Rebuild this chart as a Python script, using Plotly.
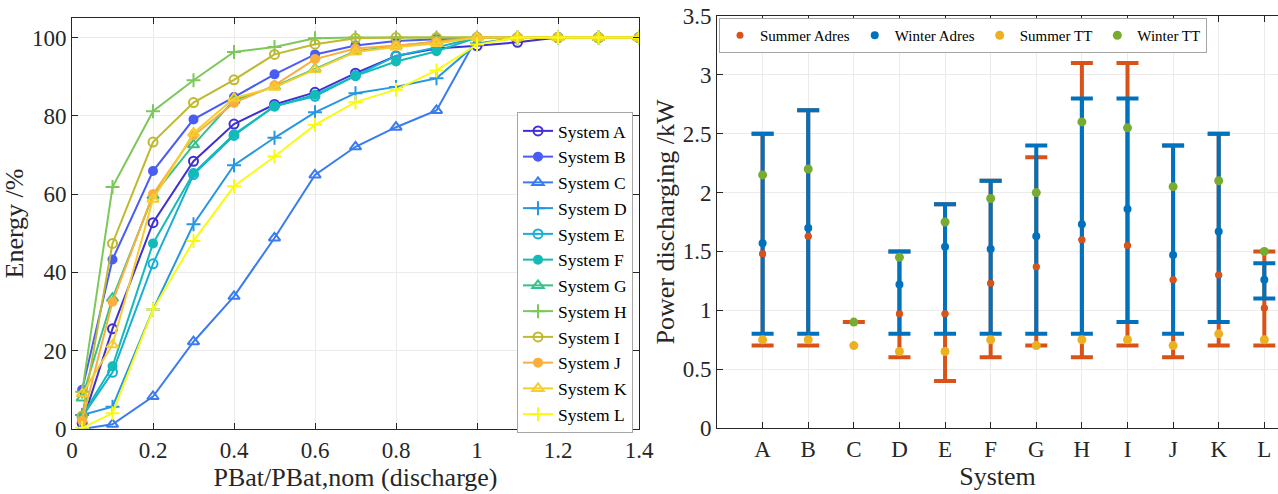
import plotly.graph_objects as go

# ---------------- Left chart data ----------------
p_ratio = [0.025, 0.1, 0.2, 0.3, 0.4, 0.5, 0.6, 0.7, 0.8, 0.9, 1.0, 1.1, 1.2, 1.3, 1.4]
sys_A = [1.5, 25.6, 52.7, 68.4, 77.9, 82.9, 86.0, 90.9, 95.3, 97.2, 97.9, 98.8, 100, 100, 100]
sys_B = [10.0, 43.3, 65.9, 79.1, 84.8, 90.6, 95.7, 98.0, 99.1, 99.6, 100, 100, 100, 100, 100]
sys_C = [0.0, 1.2, 8.3, 22.3, 33.9, 48.8, 64.9, 72.1, 77.1, 81.4, 100, 100, 100, 100, 100]
sys_D = [3.6, 5.7, 30.5, 52.3, 67.4, 74.4, 80.9, 85.8, 87.4, 89.6, 98.5, 100, 100, 100, 100]
sys_E = [3.1, 14.5, 42.2, 65.0, 75.0, 82.5, 85.0, 90.3, 95.3, 97.5, 100, 100, 100, 100, 100]
sys_F = [3.3, 16.0, 47.4, 65.4, 75.3, 82.4, 85.4, 90.2, 93.9, 96.5, 100, 100, 100, 100, 100]
sys_G = [7.9, 33.4, 59.6, 72.6, 84.0, 87.5, 92.0, 96.5, 97.8, 99.0, 100, 100, 100, 100, 100]
sys_H = [9.5, 61.8, 81.2, 89.1, 96.3, 97.6, 99.8, 100, 100, 100, 100, 100, 100, 100, 100]
sys_I = [3.3, 47.4, 73.3, 83.4, 89.2, 95.7, 98.3, 99.8, 100, 100, 100, 100, 100, 100, 100]
sys_J = [2.1, 32.5, 60.0, 75.0, 83.3, 87.8, 94.5, 97.2, 98.0, 98.9, 100, 100, 100, 100, 100]
sys_K = [9.0, 21.5, 58.7, 75.6, 84.5, 87.3, 91.8, 96.3, 97.6, 98.5, 100, 100, 100, 100, 100]
sys_L = [0.3, 4.0, 30.5, 48.0, 62.0, 69.6, 77.7, 83.5, 86.7, 91.6, 98.2, 100, 100, 100, 100]

series_names = ["System A", "System B", "System C", "System D", "System E", "System F",
                "System G", "System H", "System I", "System J", "System K", "System L"]
series_values = [sys_A, sys_B, sys_C, sys_D, sys_E, sys_F, sys_G, sys_H, sys_I, sys_J, sys_K, sys_L]
series_colors = ["#3F2FD6", "#4A5CF6", "#3A7CF0", "#2697E0", "#17AFD6", "#13BBB8",
                 "#35C08C", "#7DC85A", "#BFB92D", "#FAAF3C", "#F5CD2D", "#F8FA14"]
series_symbols = ["circle-open", "circle", "triangle-up-open", "cross-thin-open"] * 3
series_msize = [9, 8, 10, 10] * 3

# ---------------- Right chart data ----------------
systems = ["A", "B", "C", "D", "E", "F", "G", "H", "I", "J", "K", "L"]
summer_mid = [1.48, 1.63, 0.90, 0.97, 0.97, 1.23, 1.37, 1.60, 1.55, 1.26, 1.30, 1.02]
summer_low = [0.70, 0.70, 0.90, 0.60, 0.40, 0.60, 0.70, 0.60, 0.70, 0.60, 0.70, 0.70]
summer_high = [2.50, 2.70, 0.90, 1.50, 1.90, 2.10, 2.30, 3.10, 3.10, 2.40, 2.50, 1.50]
winter_mid = [1.57, 1.70, None, 1.22, 1.54, 1.52, 1.63, 1.73, 1.86, 1.47, 1.67, 1.26]
winter_low = [0.80, 0.80, None, 0.80, 0.80, 0.80, 0.80, 0.80, 0.90, 0.80, 0.90, 1.10]
winter_high = [2.50, 2.70, None, 1.50, 1.90, 2.10, 2.40, 2.80, 2.80, 2.40, 2.50, 1.40]
summer_tt = [0.75, 0.75, 0.70, 0.65, 0.65, 0.75, 0.70, 0.75, 0.75, 0.70, 0.80, 0.75]
winter_tt = [2.15, 2.20, 0.90, 1.45, 1.75, 1.95, 2.00, 2.60, 2.55, 2.05, 2.10, 1.50]

C_SUM_AD = "#D95319"
C_WIN_AD = "#0072BD"
C_SUM_TT = "#EDB120"
C_WIN_TT = "#77AC30"

FONT = "Liberation Serif, Times New Roman, serif"
TXT = "#262626"

fig = go.Figure()

for name, vals, col, sym, ms in zip(series_names, series_values, series_colors,
                                     series_symbols, series_msize):
    fig.add_trace(go.Scatter(
        x=p_ratio, y=vals, name=name, mode="lines+markers",
        line=dict(color=col, width=2),
        marker=dict(symbol=sym, size=ms, color=col, line=dict(color=col, width=2)),
        xaxis="x", yaxis="y", legend="legend",
    ))


def diff(a, b):
    return [None if (x is None or y is None) else round(x - y, 4) for x, y in zip(a, b)]


fig.add_trace(go.Scatter(
    x=systems, y=summer_mid, name="Summer Adres", mode="markers",
    marker=dict(color=C_SUM_AD, size=7),
    error_y=dict(type="data", symmetric=False, array=diff(summer_high, summer_mid),
                 arrayminus=diff(summer_mid, summer_low), color=C_SUM_AD, thickness=4, width=11),
    xaxis="x2", yaxis="y2", legend="legend2",
))
fig.add_trace(go.Scatter(
    x=systems, y=winter_mid, name="Winter Adres", mode="markers",
    marker=dict(color=C_WIN_AD, size=8),
    error_y=dict(type="data", symmetric=False, array=diff(winter_high, winter_mid),
                 arrayminus=diff(winter_mid, winter_low), color=C_WIN_AD, thickness=4, width=11),
    xaxis="x2", yaxis="y2", legend="legend2",
))
fig.add_trace(go.Scatter(
    x=systems, y=summer_mid, name="Summer Adres", mode="markers", showlegend=False,
    marker=dict(color=C_SUM_AD, size=7),
    xaxis="x2", yaxis="y2", hoverinfo="skip",
))
fig.add_trace(go.Scatter(
    x=systems, y=summer_tt, name="Summer TT", mode="markers",
    marker=dict(color=C_SUM_TT, size=9),
    xaxis="x2", yaxis="y2", legend="legend2",
))
fig.add_trace(go.Scatter(
    x=systems, y=winter_tt, name="Winter TT", mode="markers",
    marker=dict(color=C_WIN_TT, size=9),
    xaxis="x2", yaxis="y2", legend="legend2",
))

W, H = 1278, 494
axis_common = dict(
    showline=True, linecolor=TXT, linewidth=1, ticks="inside", ticklen=6,
    tickcolor=TXT, tickwidth=1, showgrid=True, gridcolor="#ebebeb", gridwidth=1,
    zeroline=False, tickfont=dict(family=FONT, size=23, color=TXT),
    automargin=False,
)

fig.update_layout(
    width=W, height=H,
    margin=dict(l=0, r=0, t=0, b=0),
    paper_bgcolor="white", plot_bgcolor="white",
    font=dict(family=FONT, color=TXT),
    xaxis=dict(**axis_common, domain=[72 / W, 639 / W], range=[0, 1.4], dtick=0.2,
               mirror="ticks", anchor="y",
               title=dict(text="PBat/PBat,nom (discharge)", standoff=4,
                          font=dict(family=FONT, size=26, color=TXT))),
    yaxis=dict(**axis_common, domain=[65 / H, 476 / H], range=[0, 105], dtick=20,
               mirror="ticks", anchor="x",
               title=dict(text="Energy /%", standoff=0,
                          font=dict(family=FONT, size=26, color=TXT))),
    xaxis2=dict(**axis_common, domain=[717 / W, 1.0], type="category",
                categoryorder="array", categoryarray=systems, range=[-1, 11.3],
                mirror="ticks", anchor="y2",
                title=dict(text="System", standoff=4,
                           font=dict(family=FONT, size=26, color=TXT))),
    yaxis2=dict(**axis_common, domain=[66 / H, 478 / H], range=[0, 3.5], dtick=0.5,
                mirror=False, anchor="x2",
                title=dict(text="Power discharging /kW", standoff=0,
                           font=dict(family=FONT, size=26, color=TXT))),
    legend=dict(x=517 / W, y=382 / H, xanchor="left", yanchor="top",
                bgcolor="white", bordercolor="#a6a6a6", borderwidth=1,
                font=dict(family=FONT, size=17.5, color="#000000"),
                itemwidth=30, tracegroupgap=0),
    legend2=dict(x=719 / W, y=476 / H, xanchor="left", yanchor="top",
                 orientation="h", bgcolor="white", bordercolor="#a6a6a6", borderwidth=1,
                 font=dict(family=FONT, size=15, color="#000000"),
                 itemwidth=30),
    showlegend=True,
)

fig.write_html("out.html")
